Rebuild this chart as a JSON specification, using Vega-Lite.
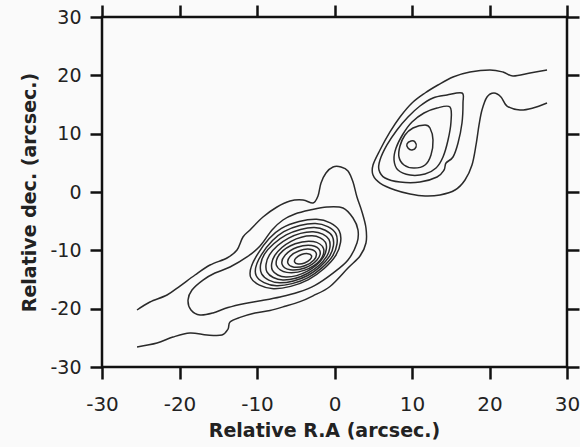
{
"$schema": "https://vega.github.io/schema/vega-lite/v6.json",
"width": 465, "height": 350,
"autosize": "none",
"padding": {"left": 102, "top": 17, "right": 13, "bottom": 80},
"background": "#fafafa",
"config": {"view": {"stroke": "#111", "strokeWidth": 2.5}, "font": "DejaVu Sans"},
"datasets": {
"open": [
{"c":"A","i":1,"x":-25.48,"y":-20.23},{"c":"A","i":2,"x":-23.81,"y":-18.86},{"c":"A","i":3,"x":-21.61,"y":-17.66},{"c":"A","i":4,"x":-19.94,"y":-16.12},{"c":"A","i":5,"x":-18.0,"y":-14.23},{"c":"A","i":6,"x":-16.06,"y":-12.52},{"c":"A","i":7,"x":-13.87,"y":-11.31},{"c":"A","i":8,"x":-12.58,"y":-9.94},{"c":"A","i":9,"x":-11.81,"y":-7.71},{"c":"A","i":10,"x":-10.9,"y":-6.51},{"c":"A","i":11,"x":-9.23,"y":-4.29},{"c":"A","i":12,"x":-7.42,"y":-2.57},{"c":"A","i":13,"x":-5.74,"y":-1.54},{"c":"A","i":14,"x":-4.06,"y":-1.37},{"c":"A","i":15,"x":-2.77,"y":-1.89},{"c":"A","i":16,"x":-2.13,"y":-0.69},{"c":"A","i":17,"x":-1.74,"y":1.54},{"c":"A","i":18,"x":-1.1,"y":3.26},{"c":"A","i":19,"x":-0.19,"y":4.29},{"c":"A","i":20,"x":0.84,"y":4.29},{"c":"A","i":21,"x":1.74,"y":3.6},{"c":"A","i":22,"x":2.39,"y":1.71},{"c":"A","i":23,"x":2.9,"y":-0.86},{"c":"A","i":24,"x":3.55,"y":-3.43},{"c":"A","i":25,"x":4.06,"y":-6.17},{"c":"A","i":26,"x":4.06,"y":-8.74},{"c":"A","i":27,"x":3.29,"y":-10.97},{"c":"A","i":28,"x":1.74,"y":-13.03},{"c":"A","i":29,"x":-0.58,"y":-16.2},{"c":"A","i":30,"x":-2.77,"y":-17.8},{"c":"A","i":31,"x":-4.45,"y":-18.8},{"c":"A","i":32,"x":-6.39,"y":-19.6},{"c":"A","i":33,"x":-8.32,"y":-20.3},{"c":"A","i":34,"x":-10.26,"y":-20.75},{"c":"A","i":35,"x":-12.19,"y":-21.5},{"c":"A","i":36,"x":-13.48,"y":-22.29},{"c":"A","i":37,"x":-13.74,"y":-23.49},{"c":"A","i":38,"x":-14.52,"y":-24.52},{"c":"A","i":39,"x":-16.45,"y":-24.52},{"c":"A","i":40,"x":-18.65,"y":-24.17},{"c":"A","i":41,"x":-20.84,"y":-24.86},{"c":"A","i":42,"x":-22.9,"y":-25.89},{"c":"A","i":43,"x":-25.48,"y":-26.57},
{"c":"O","i":1,"x":27.42,"y":20.92},{"c":"O","i":2,"x":25.23,"y":20.4},{"c":"O","i":3,"x":23.03,"y":19.89},{"c":"O","i":4,"x":21.74,"y":20.57},{"c":"O","i":5,"x":20.06,"y":20.92},{"c":"O","i":6,"x":17.48,"y":20.57},{"c":"O","i":7,"x":15.29,"y":19.72},{"c":"O","i":8,"x":13.35,"y":18.34},{"c":"O","i":9,"x":11.68,"y":16.97},{"c":"O","i":10,"x":10.0,"y":15.26},{"c":"O","i":11,"x":8.45,"y":12.86},{"c":"O","i":12,"x":7.16,"y":10.29},{"c":"O","i":13,"x":5.87,"y":7.2},{"c":"O","i":14,"x":4.97,"y":4.63},{"c":"O","i":15,"x":4.97,"y":2.91},{"c":"O","i":16,"x":5.87,"y":1.54},{"c":"O","i":17,"x":7.81,"y":0.34},{"c":"O","i":18,"x":9.74,"y":-0.34},{"c":"O","i":19,"x":11.68,"y":-0.69},{"c":"O","i":20,"x":13.61,"y":-0.51},{"c":"O","i":21,"x":15.55,"y":0.34},{"c":"O","i":22,"x":16.84,"y":2.06},{"c":"O","i":23,"x":17.74,"y":4.63},{"c":"O","i":24,"x":18.26,"y":8.06},{"c":"O","i":25,"x":18.65,"y":11.49},{"c":"O","i":26,"x":19.03,"y":14.06},{"c":"O","i":27,"x":19.68,"y":16.29},{"c":"O","i":28,"x":20.58,"y":16.97},{"c":"O","i":29,"x":21.48,"y":16.29},{"c":"O","i":30,"x":22.26,"y":14.74},{"c":"O","i":31,"x":23.94,"y":14.06},{"c":"O","i":32,"x":25.61,"y":14.4},{"c":"O","i":33,"x":27.42,"y":15.26}
],
"closed": [
{"c":"B","i":1,"x":-18.9,"y":-18.52},{"c":"B","i":2,"x":-18.39,"y":-16.8},{"c":"B","i":3,"x":-16.97,"y":-15.09},{"c":"B","i":4,"x":-15.42,"y":-13.89},{"c":"B","i":5,"x":-13.48,"y":-12.86},{"c":"B","i":6,"x":-11.29,"y":-11.14},{"c":"B","i":7,"x":-9.61,"y":-9.26},{"c":"B","i":8,"x":-8.06,"y":-6.51},{"c":"B","i":9,"x":-6.65,"y":-4.8},{"c":"B","i":10,"x":-5.1,"y":-3.77},{"c":"B","i":11,"x":-3.16,"y":-3.09},{"c":"B","i":12,"x":-0.97,"y":-2.57},{"c":"B","i":13,"x":1.1,"y":-2.74},{"c":"B","i":14,"x":2.39,"y":-4.46},{"c":"B","i":15,"x":3.03,"y":-6.51},{"c":"B","i":16,"x":2.9,"y":-8.74},{"c":"B","i":17,"x":1.74,"y":-11.66},{"c":"B","i":18,"x":-0.19,"y":-13.9},{"c":"B","i":19,"x":-2.52,"y":-16.0},{"c":"B","i":20,"x":-4.71,"y":-17.2},{"c":"B","i":21,"x":-7.03,"y":-18.0},{"c":"B","i":22,"x":-9.35,"y":-18.6},{"c":"B","i":23,"x":-11.55,"y":-19.1},{"c":"B","i":24,"x":-13.74,"y":-19.8},{"c":"B","i":25,"x":-15.68,"y":-20.74},{"c":"B","i":26,"x":-17.35,"y":-21.09},{"c":"B","i":27,"x":-18.52,"y":-20.23},
{"c":"R1","i":1,"x":0.6,"y":-6.61},{"c":"R1","i":2,"x":-2.31,"y":-4.68},{"c":"R1","i":3,"x":-6.85,"y":-6.24},{"c":"R1","i":4,"x":-9.9,"y":-10.6},{"c":"R1","i":5,"x":-10.8,"y":-14.65},{"c":"R1","i":6,"x":-7.89,"y":-16.58},{"c":"R1","i":7,"x":-3.35,"y":-15.02},{"c":"R1","i":8,"x":0.17,"y":-10.88},
{"c":"R2","i":1,"x":0.16,"y":-7.11},{"c":"R2","i":2,"x":-2.46,"y":-5.39},{"c":"R2","i":3,"x":-6.54,"y":-6.79},{"c":"R2","i":4,"x":-9.4,"y":-10.7},{"c":"R2","i":5,"x":-10.1,"y":-14.35},{"c":"R2","i":6,"x":-7.48,"y":-16.07},{"c":"R2","i":7,"x":-3.4,"y":-14.67},{"c":"R2","i":8,"x":-0.24,"y":-10.95},
{"c":"R3","i":1,"x":-0.28,"y":-7.61},{"c":"R3","i":2,"x":-2.6,"y":-6.09},{"c":"R3","i":3,"x":-6.23,"y":-7.35},{"c":"R3","i":4,"x":-9.04,"y":-10.65},{"c":"R3","i":5,"x":-9.4,"y":-14.05},{"c":"R3","i":6,"x":-7.08,"y":-15.57},{"c":"R3","i":7,"x":-3.45,"y":-14.31},{"c":"R3","i":8,"x":-0.64,"y":-11.01},
{"c":"R4","i":1,"x":-0.72,"y":-8.13},{"c":"R4","i":2,"x":-2.75,"y":-6.81},{"c":"R4","i":3,"x":-5.92,"y":-7.91},{"c":"R4","i":4,"x":-8.39,"y":-10.79},{"c":"R4","i":5,"x":-8.7,"y":-13.75},{"c":"R4","i":6,"x":-6.67,"y":-15.07},{"c":"R4","i":7,"x":-3.5,"y":-13.97},{"c":"R4","i":8,"x":-1.03,"y":-11.09},
{"c":"R5","i":1,"x":-1.16,"y":-8.63},{"c":"R5","i":2,"x":-2.89,"y":-7.51},{"c":"R5","i":3,"x":-5.61,"y":-8.47},{"c":"R5","i":4,"x":-7.73,"y":-10.93},{"c":"R5","i":5,"x":-8.0,"y":-13.45},{"c":"R5","i":6,"x":-6.27,"y":-14.57},{"c":"R5","i":7,"x":-3.55,"y":-13.61},{"c":"R5","i":8,"x":-1.43,"y":-11.15},
{"c":"R6","i":1,"x":-1.42,"y":-9.67},{"c":"R6","i":2,"x":-2.74,"y":-8.5},{"c":"R6","i":3,"x":-5.07,"y":-8.88},{"c":"R6","i":4,"x":-7.04,"y":-10.58},{"c":"R6","i":5,"x":-7.48,"y":-12.61},{"c":"R6","i":6,"x":-6.16,"y":-13.78},{"c":"R6","i":7,"x":-3.83,"y":-13.4},{"c":"R6","i":8,"x":-1.86,"y":-11.7},
{"c":"R7","i":1,"x":-1.89,"y":-10.08},{"c":"R7","i":2,"x":-2.94,"y":-9.17},{"c":"R7","i":3,"x":-4.81,"y":-9.48},{"c":"R7","i":4,"x":-6.38,"y":-10.83},{"c":"R7","i":5,"x":-6.75,"y":-12.42},{"c":"R7","i":6,"x":-5.7,"y":-13.33},{"c":"R7","i":7,"x":-3.83,"y":-13.02},{"c":"R7","i":8,"x":-2.26,"y":-11.67},
{"c":"R8","i":1,"x":-2.37,"y":-10.47},{"c":"R8","i":2,"x":-3.15,"y":-9.82},{"c":"R8","i":3,"x":-4.54,"y":-10.06},{"c":"R8","i":4,"x":-5.73,"y":-11.06},{"c":"R8","i":5,"x":-6.01,"y":-12.23},{"c":"R8","i":6,"x":-5.23,"y":-12.88},{"c":"R8","i":7,"x":-3.84,"y":-12.64},{"c":"R8","i":8,"x":-2.65,"y":-11.64},
{"c":"R9","i":1,"x":-2.97,"y":-10.92},{"c":"R9","i":2,"x":-3.43,"y":-10.57},{"c":"R9","i":3,"x":-4.26,"y":-10.72},{"c":"R9","i":4,"x":-4.97,"y":-11.31},{"c":"R9","i":5,"x":-5.15,"y":-11.98},{"c":"R9","i":6,"x":-4.69,"y":-12.33},{"c":"R9","i":7,"x":-3.86,"y":-12.18},{"c":"R9","i":8,"x":-3.15,"y":-11.59},
{"c":"C4","i":1,"x":16.45,"y":16.97},{"c":"C4","i":2,"x":14.52,"y":16.63},{"c":"C4","i":3,"x":12.71,"y":16.12},{"c":"C4","i":4,"x":11.03,"y":14.74},{"c":"C4","i":5,"x":9.48,"y":12.86},{"c":"C4","i":6,"x":8.06,"y":10.63},{"c":"C4","i":7,"x":6.77,"y":8.06},{"c":"C4","i":8,"x":5.87,"y":5.49},{"c":"C4","i":9,"x":5.74,"y":3.77},{"c":"C4","i":10,"x":6.52,"y":2.4},{"c":"C4","i":11,"x":8.45,"y":1.71},{"c":"C4","i":12,"x":11.03,"y":1.71},{"c":"C4","i":13,"x":13.23,"y":2.57},{"c":"C4","i":14,"x":14.13,"y":3.77},{"c":"C4","i":15,"x":14.39,"y":4.97},{"c":"C4","i":16,"x":15.29,"y":6.0},{"c":"C4","i":17,"x":15.94,"y":8.4},{"c":"C4","i":18,"x":16.45,"y":11.83},{"c":"C4","i":19,"x":16.58,"y":15.26},
{"c":"C3","i":1,"x":14.9,"y":14.57},{"c":"C3","i":2,"x":13.23,"y":14.4},{"c":"C3","i":3,"x":11.55,"y":13.54},{"c":"C3","i":4,"x":10.0,"y":12.0},{"c":"C3","i":5,"x":8.84,"y":9.94},{"c":"C3","i":6,"x":7.94,"y":7.54},{"c":"C3","i":7,"x":7.68,"y":5.49},{"c":"C3","i":8,"x":8.19,"y":3.77},{"c":"C3","i":9,"x":9.74,"y":2.91},{"c":"C3","i":10,"x":11.68,"y":3.09},{"c":"C3","i":11,"x":13.1,"y":4.11},{"c":"C3","i":12,"x":14.0,"y":6.0},{"c":"C3","i":13,"x":14.65,"y":8.91},{"c":"C3","i":14,"x":15.03,"y":12.0},
{"c":"C2","i":1,"x":11.68,"y":11.49},{"c":"C2","i":2,"x":10.13,"y":10.97},{"c":"C2","i":3,"x":9.1,"y":9.77},{"c":"C2","i":4,"x":8.45,"y":7.89},{"c":"C2","i":5,"x":8.32,"y":6.0},{"c":"C2","i":6,"x":8.97,"y":4.63},{"c":"C2","i":7,"x":10.26,"y":4.11},{"c":"C2","i":8,"x":11.68,"y":4.63},{"c":"C2","i":9,"x":12.45,"y":6.34},{"c":"C2","i":10,"x":12.71,"y":8.91},{"c":"C2","i":11,"x":12.32,"y":10.97},
{"c":"C1","i":1,"x":9.87,"y":8.74},{"c":"C1","i":2,"x":9.35,"y":8.23},{"c":"C1","i":3,"x":9.48,"y":7.54},{"c":"C1","i":4,"x":10.0,"y":7.2},{"c":"C1","i":5,"x":10.52,"y":7.71},{"c":"C1","i":6,"x":10.39,"y":8.57}
]
},
"layer": [
{
"data": {"name": "closed"},
"mark": {"type": "line", "interpolate": "cardinal-closed", "stroke": "#2a2a2a", "strokeWidth": 1.5},
"encoding": {
"x": {"field": "x", "type": "quantitative", "scale": {"domain": [-30, 30], "nice": false, "zero": false},
"axis": {"orient": "bottom", "values": [-30, -20, -10, 0, 10, 20, 30], "labelExpr": "datum.value < 0 ? '-' + abs(datum.value) : '' + datum.value", "tickSize": 12, "tickWidth": 2.5, "tickColor": "#111", "domain": false, "grid": false, "labelFontSize": 20, "labelColor": "#222", "labelPadding": 15, "labelFlush": false, "labelOverlap": false, "title": "Relative R.A (arcsec.)", "titleFontSize": 19, "titleFontWeight": "bold", "titleColor": "#222", "titlePadding": 7, "titleX": 222, "titleAlign": "center"}},
"y": {"field": "y", "type": "quantitative", "scale": {"domain": [-30, 30], "nice": false, "zero": false},
"axis": {"orient": "left", "values": [-30, -20, -10, 0, 10, 20, 30], "labelExpr": "datum.value < 0 ? '-' + abs(datum.value) : '' + datum.value", "tickSize": 12, "tickWidth": 2.5, "tickColor": "#111", "domain": false, "grid": false, "labelFontSize": 19, "labelColor": "#222", "labelPadding": 9, "labelFlush": false, "labelOverlap": false, "title": "Relative dec. (arcsec.)", "titleFontSize": 19, "titleFontWeight": "bold", "titleColor": "#222", "titlePadding": 10}},
"detail": {"field": "c", "type": "nominal"},
"order": {"field": "i", "type": "quantitative"}
}
},
{
"data": {"name": "open"},
"mark": {"type": "line", "interpolate": "cardinal", "stroke": "#2a2a2a", "strokeWidth": 1.5},
"encoding": {
"x": {"field": "x", "type": "quantitative", "scale": {"domain": [-30, 30], "nice": false, "zero": false},
"axis": {"orient": "top", "values": [-30, -20, -10, 0, 10, 20, 30], "tickSize": 12, "tickWidth": 2.5, "tickColor": "#111", "domain": false, "grid": false, "labels": false, "title": null}},
"y": {"field": "y", "type": "quantitative", "scale": {"domain": [-30, 30], "nice": false, "zero": false},
"axis": {"orient": "right", "values": [-30, -20, -10, 0, 10, 20, 30], "tickSize": 12, "tickWidth": 2.5, "tickColor": "#111", "domain": false, "grid": false, "labels": false, "title": null}},
"detail": {"field": "c", "type": "nominal"},
"order": {"field": "i", "type": "quantitative"}
}
}
],
"resolve": {"axis": {"x": "independent", "y": "independent"}}
}
